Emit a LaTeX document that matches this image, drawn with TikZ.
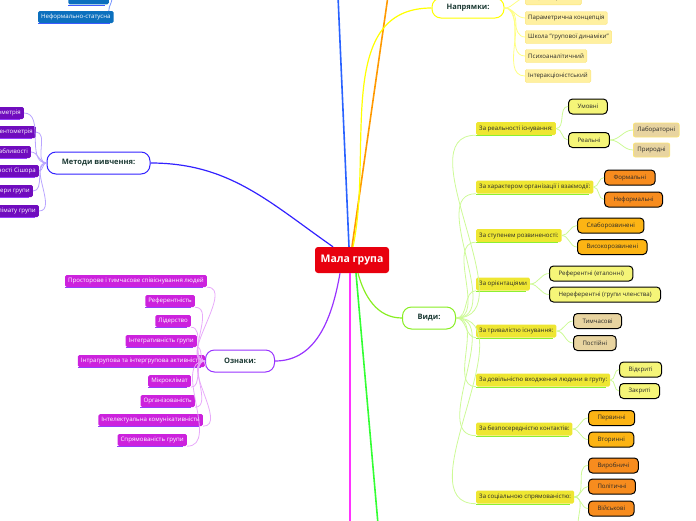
\documentclass[tikz,border=0pt]{standalone}
\usepackage{fontspec}
\setmainfont{Open Sans}
\usetikzlibrary{calc}

\definecolor{malared}{RGB}{232,0,14}
\definecolor{topictext}{RGB}{28,58,52}
\definecolor{bluebranch}{RGB}{41,98,255}
\definecolor{orangebranch}{RGB}{255,153,0}
\definecolor{yellowbranch}{RGB}{255,255,0}
\definecolor{metodbranch}{RGB}{51,34,255}
\definecolor{oznakbranch}{RGB}{153,51,255}
\definecolor{pinkbranch}{RGB}{255,51,255}
\definecolor{greenbranch}{RGB}{51,255,51}
\definecolor{vydybranch}{RGB}{136,238,34}
\definecolor{metodleaf}{RGB}{112,12,190}
\definecolor{metodconn}{RGB}{185,165,255}
\definecolor{oznakleaf}{RGB}{204,34,221}
\definecolor{oznakconn}{RGB}{232,170,250}
\definecolor{leafline}{RGB}{150,60,255}
\definecolor{blueleaf}{RGB}{12,112,190}
\definecolor{blueline}{RGB}{60,90,255}
\definecolor{blueconn}{RGB}{120,150,255}
\definecolor{napryamleaf}{RGB}{255,240,160}
\definecolor{napryamedge}{RGB}{250,228,120}
\definecolor{napryamconn}{RGB}{255,255,130}
\definecolor{vydycat}{RGB}{238,230,50}
\definecolor{vydyline}{RGB}{140,240,50}
\definecolor{vydyconn}{RGB}{205,250,150}
\definecolor{paleyellow}{RGB}{245,245,120}
\definecolor{orangeleaf}{RGB}{247,140,30}
\definecolor{amberleaf}{RGB}{252,180,20}
\definecolor{tanleaf}{RGB}{232,212,160}
\definecolor{darktext}{RGB}{40,40,40}

\newcommand\leaffont{\fontsize{6.1}{7}\selectfont}
\newcommand\catfont{\fontsize{6.1}{7}\selectfont}

\tikzset{
  mainbox/.style={fill=malared, text=white, rounded corners=3pt, minimum width=74pt,
    minimum height=26pt, font=\bfseries\fontsize{10.5}{12}\selectfont},
  topicbox/.style={draw=#1, line width=1pt, fill=white, text=topictext, rounded corners=9pt,
    minimum height=22pt, font=\bfseries\fontsize{7.5}{9}\selectfont},
  underline/.style={append after command={([yshift=-0.6pt]\tikzlastnode.south west)
    edge[draw=#1,line width=1.2pt] ([yshift=-0.6pt,xshift=-4pt]\tikzlastnode.south east)}},
  leafbox/.style={fill=#1, text=white, rounded corners=1.5pt, minimum height=12pt,
    inner xsep=3pt, inner ysep=0pt, font=\leaffont},
  mleaf/.style={leafbox=metodleaf, underline=leafline, anchor=east},
  oleaf/.style={leafbox=oznakleaf, underline=leafline, anchor=east},
  nleaf/.style={fill=napryamleaf, draw=napryamedge, text=darktext, rounded corners=1.5pt,
    minimum height=13pt, inner xsep=3pt, inner ysep=0pt, font=\leaffont, anchor=west},
  catbox/.style={fill=vydycat, text=darktext, rounded corners=1.5pt, minimum height=13pt,
    inner xsep=3pt, inner ysep=0pt, font=\catfont, anchor=west, underline=vydyline},
  kindbox/.style={fill=#1, draw=black, line width=1pt, text=darktext, rounded corners=4pt,
    minimum height=15pt, inner xsep=9pt, inner ysep=0pt, font=\leaffont, anchor=west},
  lightkind/.style={fill=tanleaf, draw=napryamedge, line width=0.8pt, text=darktext,
    rounded corners=2pt, minimum height=14pt, inner xsep=4pt, inner ysep=0pt,
    font=\leaffont, anchor=west},
  branch/.style={draw=#1, line width=1.6pt},
  conn/.style={draw=#1, line width=0.8pt},
  leftfan/.style={out=180, in=0},
  rightfan/.style={out=0, in=180},
}

\begin{document}
\begin{tikzpicture}[x=1pt,y=1pt]
  \useasboundingbox (0,0) rectangle (696,-520);
  \clip (0,0) rectangle (696,-520);

  % centre and the four visible topics
  \node[mainbox] (mala) at (352,-260) {Мала група};
  \node[topicbox=metodbranch, minimum width=103pt] (metody) at (98.5,-163) {Методи вивчення:};
  \node[topicbox=oznakbranch, minimum width=69pt] (oznaky) at (240,-361) {Ознаки:};
  \node[topicbox=yellowbranch, minimum width=72pt, minimum height=20pt] (napryamky) at (468,-8) {Напрямки:};
  \node[topicbox=vydybranch, minimum width=53pt] (vydy) at (429,-318) {Види:};

  % branches that leave the picture
  \coordinate (blueend) at (338,4);
  \coordinate (orangeend) at (388,4);
  \coordinate (pinkend) at (350,-524);
  \coordinate (greenend) at (378,-524);

  \draw[branch=bluebranch] ([xshift=-3pt]mala.north) -- (blueend);
  \draw[branch=orangebranch] (mala.north) -- (orangeend);
  \draw[branch=pinkbranch] ([xshift=-2pt]mala.south) -- (pinkend);
  \draw[branch=greenbranch] ([xshift=4pt]mala.south) -- (greenend);
  \draw[branch=metodbranch, line width=1.2pt] ([xshift=-19pt]mala.north) to[out=145,in=0] (metody.east);
  \draw[branch=yellowbranch, line width=1.2pt] ([xshift=1pt]mala.north) to[out=78,in=180] (napryamky.west);
  \draw[branch=oznakbranch, line width=1.2pt] ([xshift=-12pt]mala.south) to[out=-100,in=0] (oznaky.east);
  \draw[branch=vydybranch, line width=1.2pt] ([xshift=6pt]mala.south) to[out=-75,in=180] (vydy.west);

  % top left corner
  \coordinate (bluetop) at (112,2);
  \node[leafbox=blueleaf, underline=blueline, anchor=south east, minimum height=18pt] (formal) at (109,-4.5) {Формальна};
  \node[leafbox=blueleaf, underline=blueline, anchor=west] (nefst) at (38,-17) {Неформально-статусна};
  \draw[conn=blueconn] (bluetop) to[out=-90,in=90] ([xshift=-5pt]nefst.north east);

  % methods
  \node[mleaf] (m1) at (24,-113) {Соціометрія};
  \node[mleaf] (m2) at (36,-132) {Референтометрія};
  \node[mleaf] (m3) at (31,-152) {Шкала привабливості};
  \node[mleaf] (m4) at (39,-171) {Індекс згуртованості Сішора};
  \node[mleaf] (m5) at (33,-191) {Оцінка атмосфери групи};
  \node[mleaf] (m6) at (39,-211) {Оцінка клімату групи};
  \draw[conn=metodconn] (metody.west) edge[leftfan] (m1.east) edge[leftfan] (m2.east)
    edge[leftfan] (m3.east) edge[leftfan] (m4.east) edge[leftfan] (m5.east) edge[leftfan] (m6.east);

  % features
  \node[oleaf] (o1) at (207,-281) {Просторове і тимчасове співіснування людей};
  \node[oleaf] (o2) at (195,-301) {Референтність};
  \node[oleaf] (o3) at (191,-321) {Лідерство};
  \node[oleaf] (o4) at (197,-341) {Інтегративність групи};
  \node[oleaf] (o5) at (205,-361) {Інтрагрупова та інтергрупова активність};
  \node[oleaf] (o6) at (191,-381) {Мікроклімат};
  \node[oleaf] (o7) at (195,-401) {Організованість};
  \node[oleaf] (o8) at (203,-420) {Інтелектуальна комунікативність};
  \node[oleaf] (o9) at (187,-440) {Спрямованість групи};
  \draw[conn=oznakconn] (oznaky.west) edge[leftfan] (o1.south east) edge[leftfan] (o2.south east)
    edge[leftfan] (o3.south east) edge[leftfan] (o4.south east) edge[leftfan] (o5.south east)
    edge[leftfan] (o6.south east) edge[leftfan] (o7.south east) edge[leftfan] (o8.south east)
    edge[leftfan] (o9.south east);

  % directions
  \node[nleaf, anchor=south west] (n0) at (525,-5) {Соціометричний};
  \node[nleaf] (n1) at (525,-18) {Параметрична концепція};
  \node[nleaf] (n2) at (525,-37) {Школа "групової динаміки"};
  \node[nleaf] (n3) at (525,-56) {Психоаналітичний};
  \node[nleaf] (n4) at (525,-76) {Інтеракціоністський};
  \draw[conn=napryamconn] (napryamky.east) edge[rightfan] (n0.west) edge[rightfan] (n1.west)
    edge[rightfan] (n2.west) edge[rightfan] (n3.west) edge[rightfan] (n4.west);

  % kinds
  \node[catbox] (c1) at (476,-128.5) {За реальності існування:};
  \node[catbox] (c2) at (476,-187) {За характером організації і взаємодії:};
  \node[catbox] (c3) at (476,-235.5) {За ступенем розвиненості:};
  \node[catbox] (c4) at (476,-284) {За орієнтаціями};
  \node[catbox] (c5) at (476,-331) {За тривалістю існування:};
  \node[catbox] (c6) at (476,-380) {За довільністю входження людини в групу:};
  \node[catbox] (c7) at (476,-429) {За безпосередністю контактів:};
  \node[catbox] (c8) at (476,-497) {За соціальною спрямованістю:};
  \draw[conn=vydyconn] (vydy.east) edge[rightfan] (c1.south west) edge[rightfan] (c2.south west)
    edge[rightfan] (c3.south west) edge[rightfan] (c4.south west) edge[rightfan] (c5.south west)
    edge[rightfan] (c6.south west) edge[rightfan] (c7.south west) edge[rightfan] (c8.south west);

  \node[kindbox=paleyellow] (k11) at (568,-106.5) {Умовні};
  \node[kindbox=paleyellow] (k12) at (568,-140) {Реальні};
  \node[lightkind] (k121) at (633,-130) {Лабораторні};
  \node[lightkind] (k122) at (633,-150) {Природні};
  \node[kindbox=orangeleaf] (k21) at (604,-177.5) {Формальні};
  \node[kindbox=orangeleaf] (k22) at (604,-199.5) {Неформальні};
  \node[kindbox=amberleaf] (k31) at (577,-225.5) {Слаборозвинені};
  \node[kindbox=amberleaf] (k32) at (577,-247) {Високорозвинені};
  \node[kindbox=paleyellow] (k41) at (549,-273.5) {Референтні (еталонні)};
  \node[kindbox=paleyellow] (k42) at (549,-294.5) {Нереферентні (групи членства)};
  \node[kindbox=tanleaf] (k51) at (573,-321) {Тимчасові};
  \node[kindbox=tanleaf] (k52) at (573,-343) {Постійні};
  \node[kindbox=paleyellow] (k61) at (619,-369.5) {Відкриті};
  \node[kindbox=paleyellow] (k62) at (619,-391) {Закриті};
  \node[kindbox=amberleaf] (k71) at (588,-418) {Первинні};
  \node[kindbox=amberleaf] (k72) at (588,-439.5) {Вторинні};
  \node[kindbox=orangeleaf] (k81) at (588,-465.5) {Виробничі};
  \node[kindbox=orangeleaf] (k82) at (588,-486.5) {Політичні};
  \node[kindbox=orangeleaf] (k83) at (588,-508.5) {Військові};
  \coordinate (k84) at (578,-524);

  \draw[conn=vydyconn] (c1.east) edge[rightfan] (k11.west) edge[rightfan] (k12.west);
  \draw[conn=vydyconn] (k12.east) edge[rightfan] (k121.west) edge[rightfan] (k122.west);
  \draw[conn=vydyconn] (c2.east) edge[rightfan] (k21.west) edge[rightfan] (k22.west);
  \draw[conn=vydyconn] (c3.east) edge[rightfan] (k31.west) edge[rightfan] (k32.west);
  \draw[conn=vydyconn] (c4.east) edge[rightfan] (k41.west) edge[rightfan] (k42.west);
  \draw[conn=vydyconn] (c5.east) edge[rightfan] (k51.west) edge[rightfan] (k52.west);
  \draw[conn=vydyconn] (c6.east) edge[rightfan] (k61.west) edge[rightfan] (k62.west);
  \draw[conn=vydyconn] (c7.east) edge[rightfan] (k71.west) edge[rightfan] (k72.west);
  \draw[conn=vydyconn] (c8.east) edge[rightfan] (k81.west) edge[rightfan] (k82.west)
    edge[rightfan] (k83.west) edge[out=0,in=90] (k84);
\end{tikzpicture}
\end{document}
